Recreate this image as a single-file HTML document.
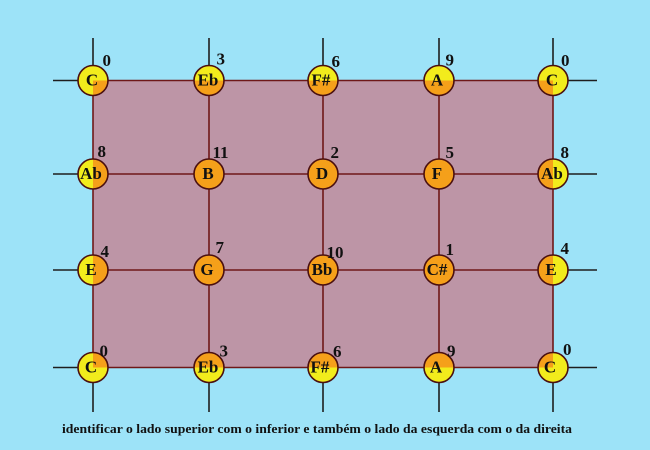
<!DOCTYPE html>
<html><head><meta charset="utf-8"><style>
html,body{margin:0;padding:0;background:#9de3f8;}
svg{display:block;}
text{font-family:"Liberation Serif",serif;font-weight:bold;fill:#111;}
</style></head><body>
<svg width="650" height="450" viewBox="0 0 650 450" xmlns="http://www.w3.org/2000/svg">
<defs><clipPath id="rc"><rect x="93" y="80.5" width="460" height="287"/></clipPath></defs>
<rect x="0" y="0" width="650" height="450" fill="#9de3f8"/>
<rect x="93" y="80.5" width="460" height="287" fill="#bd95a6"/>
<g stroke="#1e1e1e" stroke-width="1.6">
<line x1="93" y1="38" x2="93" y2="80.5"/><line x1="209" y1="38" x2="209" y2="80.5"/><line x1="323" y1="38" x2="323" y2="80.5"/><line x1="439" y1="38" x2="439" y2="80.5"/><line x1="553" y1="38" x2="553" y2="80.5"/>
<line x1="93" y1="367.5" x2="93" y2="412"/><line x1="209" y1="367.5" x2="209" y2="412"/><line x1="323" y1="367.5" x2="323" y2="412"/><line x1="439" y1="367.5" x2="439" y2="412"/><line x1="553" y1="367.5" x2="553" y2="412"/>
<line x1="53" y1="80.5" x2="93" y2="80.5"/><line x1="53" y1="174" x2="93" y2="174"/><line x1="53" y1="270" x2="93" y2="270"/><line x1="53" y1="367.5" x2="93" y2="367.5"/>
<line x1="553" y1="80.5" x2="597" y2="80.5"/><line x1="553" y1="174" x2="597" y2="174"/><line x1="553" y1="270" x2="597" y2="270"/><line x1="553" y1="367.5" x2="597" y2="367.5"/>
</g>
<g stroke="#6e1818" stroke-width="1.6">
<line x1="93" y1="80.5" x2="93" y2="367.5"/><line x1="209" y1="80.5" x2="209" y2="367.5"/><line x1="323" y1="80.5" x2="323" y2="367.5"/><line x1="439" y1="80.5" x2="439" y2="367.5"/><line x1="553" y1="80.5" x2="553" y2="367.5"/>
<line x1="93" y1="80.5" x2="553" y2="80.5"/><line x1="93" y1="174" x2="553" y2="174"/><line x1="93" y1="270" x2="553" y2="270"/><line x1="93" y1="367.5" x2="553" y2="367.5"/>
</g>
<g id="nodes">
<!-- yellow base -->
<g fill="#f2ec1c">
<circle cx="93" cy="80.5" r="15"/><circle cx="209" cy="80.5" r="15"/><circle cx="323" cy="80.5" r="15"/><circle cx="439" cy="80.5" r="15"/><circle cx="553" cy="80.5" r="15"/>
<circle cx="93" cy="174" r="15"/><circle cx="553" cy="174" r="15"/>
<circle cx="93" cy="270" r="15"/><circle cx="553" cy="270" r="15"/>
<circle cx="93" cy="367.5" r="15"/><circle cx="209" cy="367.5" r="15"/><circle cx="323" cy="367.5" r="15"/><circle cx="439" cy="367.5" r="15"/><circle cx="553" cy="367.5" r="15"/>
</g>
<g fill="#f5a01a" clip-path="url(#rc)">
<circle cx="93" cy="80.5" r="15"/><circle cx="209" cy="80.5" r="15"/><circle cx="323" cy="80.5" r="15"/><circle cx="439" cy="80.5" r="15"/><circle cx="553" cy="80.5" r="15"/>
<circle cx="93" cy="174" r="15"/><circle cx="209" cy="174" r="15"/><circle cx="323" cy="174" r="15"/><circle cx="439" cy="174" r="15"/><circle cx="553" cy="174" r="15"/>
<circle cx="93" cy="270" r="15"/><circle cx="209" cy="270" r="15"/><circle cx="323" cy="270" r="15"/><circle cx="439" cy="270" r="15"/><circle cx="553" cy="270" r="15"/>
<circle cx="93" cy="367.5" r="15"/><circle cx="209" cy="367.5" r="15"/><circle cx="323" cy="367.5" r="15"/><circle cx="439" cy="367.5" r="15"/><circle cx="553" cy="367.5" r="15"/>
</g>
<g fill="none" stroke="#4a1010" stroke-width="1.6">
<circle cx="93" cy="80.5" r="15"/><circle cx="209" cy="80.5" r="15"/><circle cx="323" cy="80.5" r="15"/><circle cx="439" cy="80.5" r="15"/><circle cx="553" cy="80.5" r="15"/>
<circle cx="93" cy="174" r="15"/><circle cx="209" cy="174" r="15"/><circle cx="323" cy="174" r="15"/><circle cx="439" cy="174" r="15"/><circle cx="553" cy="174" r="15"/>
<circle cx="93" cy="270" r="15"/><circle cx="209" cy="270" r="15"/><circle cx="323" cy="270" r="15"/><circle cx="439" cy="270" r="15"/><circle cx="553" cy="270" r="15"/>
<circle cx="93" cy="367.5" r="15"/><circle cx="209" cy="367.5" r="15"/><circle cx="323" cy="367.5" r="15"/><circle cx="439" cy="367.5" r="15"/><circle cx="553" cy="367.5" r="15"/>
</g>
</g>
<g font-size="17" text-anchor="middle">
<text x="92" y="85.5">C</text><text x="208" y="85.5">Eb</text><text x="321" y="85.5">F#</text><text x="437" y="85.5">A</text><text x="552" y="85.5">C</text>
<text x="91" y="179">Ab</text><text x="208" y="179">B</text><text x="322" y="179">D</text><text x="437" y="179">F</text><text x="552" y="179">Ab</text>
<text x="91" y="275">E</text><text x="207" y="275">G</text><text x="322" y="275">Bb</text><text x="437" y="275">C#</text><text x="551" y="275">E</text>
<text x="91" y="372.5">C</text><text x="208" y="372.5">Eb</text><text x="320" y="372.5">F#</text><text x="436" y="372.5">A</text><text x="550" y="372.5">C</text>
</g>
<g font-size="17">
<text x="102.5" y="66">0</text><text x="216.5" y="64.5">3</text><text x="331.5" y="67">6</text><text x="445.5" y="65.5">9</text><text x="561" y="66">0</text>
<text x="97.5" y="157">8</text><text x="212.5" y="158">11</text><text x="330.5" y="158">2</text><text x="445.5" y="158">5</text><text x="560.5" y="158">8</text>
<text x="100.5" y="257">4</text><text x="215.5" y="253">7</text><text x="326.5" y="258">10</text><text x="445.5" y="255">1</text><text x="560.5" y="254">4</text>
<text x="99.5" y="356.5">0</text><text x="219.5" y="356.5">3</text><text x="333" y="357">6</text><text x="447" y="356.5">9</text><text x="563" y="355">0</text>
</g>
<text x="317" y="433" font-size="13" text-anchor="middle" textLength="510" lengthAdjust="spacingAndGlyphs">identificar o lado superior com o inferior e também o lado da esquerda com o da direita</text>
</svg>
</body></html>
